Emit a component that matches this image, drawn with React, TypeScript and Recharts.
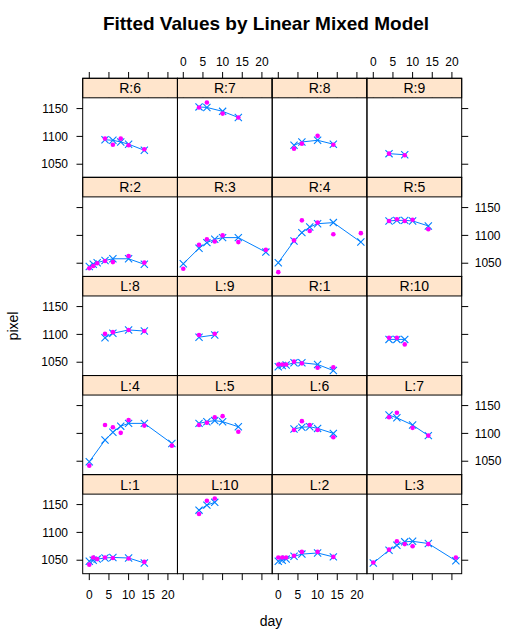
import React from 'react';
import { ComposedChart, Line, XAxis, YAxis } from 'recharts';

// ---------- data ----------
const panelLabels = [
  'R:6', 'R:7', 'R:8', 'R:9',
  'R:2', 'R:3', 'R:4', 'R:5',
  'L:8', 'L:9', 'R:1', 'R:10',
  'L:4', 'L:5', 'L:6', 'L:7',
  'L:1', 'L:10', 'L:2', 'L:3',
];

const panelDays = [
  [4, 6, 8, 10, 14], [4, 6, 10, 14], [4, 6, 10, 14], [4, 8],
  [0, 1, 2, 4, 6, 10, 14], [0, 4, 6, 8, 10, 14, 21], [0, 4, 6, 8, 10, 14, 21], [4, 6, 8, 10, 14],
  [4, 6, 10, 14], [4, 8], [0, 1, 2, 4, 6, 10, 14], [4, 6, 8],
  [0, 4, 6, 8, 10, 14, 21], [4, 6, 8, 10, 14], [4, 6, 8, 10, 14], [4, 6, 10, 14],
  [0, 1, 2, 4, 6, 10, 14], [4, 6, 8], [0, 1, 2, 4, 6, 10, 14], [0, 4, 6, 8, 10, 14, 21],
];

const observedPixel = [
  [1096, 1085, 1096, 1084, 1077], [1152, 1161, 1141, 1134], [1078, 1087, 1101, 1085], [1069, 1066],
  [1041, 1045, 1050, 1054, 1052, 1063, 1051], [1040, 1083, 1093, 1089, 1100, 1088, 1074],
  [1034, 1091, 1127, 1108, 1123, 1102, 1104], [1126, 1129, 1126, 1128, 1111],
  [1101, 1104, 1108, 1106], [1099, 1101], [1046, 1046, 1046, 1051, 1048, 1040, 1041], [1094, 1094, 1082],
  [1042, 1115, 1111, 1101, 1124, 1114, 1078], [1115, 1119, 1129, 1131, 1103],
  [1106, 1122, 1115, 1106, 1093], [1129, 1137, 1110, 1096],
  [1042, 1055, 1052, 1055, 1054, 1053, 1047], [1133, 1157, 1161],
  [1055, 1055, 1055, 1058, 1065, 1065, 1056], [1046, 1069, 1084, 1079, 1075, 1079, 1055],
];

const fittedPixel = [
  [1094, 1093, 1090, 1086, 1075], [1153, 1152, 1145, 1134], [1084, 1090, 1093, 1086], [1069, 1067],
  [1044, 1048, 1051, 1055, 1058, 1058, 1048], [1049, 1077, 1087, 1093, 1096, 1096, 1070],
  [1051, 1090, 1105, 1115, 1121, 1123, 1088], [1126, 1127, 1127, 1126, 1117],
  [1094, 1102, 1108, 1106], [1095, 1099], [1042, 1044, 1045, 1049, 1049, 1046, 1035], [1091, 1091, 1091],
  [1049, 1088, 1102, 1113, 1118, 1118, 1082], [1118, 1121, 1123, 1121, 1112],
  [1108, 1111, 1112, 1109, 1100], [1133, 1128, 1115, 1096],
  [1048, 1050, 1052, 1054, 1055, 1054, 1045], [1140, 1149, 1154],
  [1048, 1050, 1052, 1057, 1061, 1063, 1056], [1045, 1068, 1077, 1083, 1084, 1080, 1049],
];

const dayTicks = [0, 5, 10, 15, 20];
const pixelTicks = [1050, 1100, 1150];

// ---------- layout ----------
const FONT = '"Liberation Sans", Arial, Helvetica, sans-serif';
const NCOL = 4;
const NROW = 5;
const LEFT0 = 82.7;
const TOP0 = 78.3;
const CELL_W = 94.75;
const CELL_H = 99.08;
const STRIP_H = 19.5;
const PLOT_H = CELL_H - STRIP_H;
const PAD = 50;
const Y_AXIS_W = 45;
const X_TOP_H = 45;
const X_BOT_H = 30;
const X_DOMAIN: [number, number] = [-1.6, 22.5];
const Y_DOMAIN: [number, number] = [1026, 1169];

const FIT_COLOR = '#0080ff';
const OBS_COLOR = '#ff00ff';
const STRIP_COLOR = '#ffe5cc';

const tickStyle = { fontSize: 12, fill: '#000', fontFamily: FONT };
const blank = () => '';

const XMark = (props: any) => {
  const { cx, cy, index } = props;
  if (cx == null || cy == null) return <g key={`x${index}`} />;
  const s = 3.6;
  return (
    <path
      key={`x${index}`}
      d={`M${cx - s},${cy - s}L${cx + s},${cy + s}M${cx - s},${cy + s}L${cx + s},${cy - s}`}
      stroke={FIT_COLOR}
      strokeWidth={1.1}
      fill="none"
    />
  );
};

const ODot = (props: any) => {
  const { cx, cy, index } = props;
  if (cx == null || cy == null) return <g key={`o${index}`} />;
  return <circle key={`o${index}`} cx={cx} cy={cy} r={2.3} fill={OBS_COLOR} stroke="none" />;
};

function Panel({ idx }: { idx: number }) {
  const r = Math.floor(idx / NCOL);
  const c = idx % NCOL;
  const data = panelDays[idx].map((d, i) => ({
    day: d,
    obs: observedPixel[idx][i],
    fit: fittedPixel[idx][i],
  }));
  const showTop = r === 0;
  const showBottom = r === NROW - 1;
  const showLeft = c === 0;
  const showRight = c === NCOL - 1;
  const margin = {
    top: showTop ? PAD - X_TOP_H : PAD,
    bottom: showBottom ? PAD - X_BOT_H : PAD,
    left: showLeft ? PAD - Y_AXIS_W : PAD,
    right: showRight ? PAD - Y_AXIS_W : PAD,
  };
  const plotLeft = LEFT0 + c * CELL_W;
  const plotTop = TOP0 + r * CELL_H + STRIP_H;
  const xLabels = showTop ? c % 2 === 1 : c % 2 === 0;
  const yLabels = showLeft ? r % 2 === 0 : r % 2 === 1;
  return (
    <div style={{ position: 'absolute', left: plotLeft - PAD, top: plotTop - PAD }}>
      <ComposedChart
        width={CELL_W + 2 * PAD}
        height={PLOT_H + 2 * PAD}
        data={data}
        margin={margin}
      >
        <XAxis
          type="number"
          dataKey="day"
          domain={X_DOMAIN}
          allowDataOverflow
          ticks={dayTicks}
          interval={0}
          hide={!showTop && !showBottom}
          orientation={showTop ? 'top' : 'bottom'}
          height={showTop ? X_TOP_H : X_BOT_H}
          axisLine={false}
          tickLine={{ stroke: '#000', strokeWidth: 1 }}
          tickSize={showTop ? STRIP_H + 6.5 : 6.5}
          tickMargin={showTop ? 6 : 10}
          tick={tickStyle}
          tickFormatter={xLabels ? undefined : blank}
        />
        <YAxis
          type="number"
          domain={Y_DOMAIN}
          allowDataOverflow
          ticks={pixelTicks}
          interval={0}
          hide={!showLeft && !showRight}
          orientation={showLeft ? 'left' : 'right'}
          width={Y_AXIS_W}
          axisLine={false}
          tickLine={{ stroke: '#000', strokeWidth: 1 }}
          tickSize={6.5}
          tickMargin={showLeft ? 8.5 : 6.5}
          tick={tickStyle}
          tickFormatter={yLabels ? undefined : blank}
        />
        <Line
          dataKey="fit"
          stroke={FIT_COLOR}
          strokeWidth={1}
          dot={XMark}
          activeDot={false}
          isAnimationActive={false}
          type="linear"
        />
        <Line
          dataKey="obs"
          stroke="none"
          dot={ODot}
          activeDot={false}
          isAnimationActive={false}
          type="linear"
        />
      </ComposedChart>
    </div>
  );
}

export default function App() {
  const W = 507;
  const H = 633;
  return (
    <div style={{ position: 'absolute', left: 0, top: 0, width: W, height: H, background: '#fff', overflow: 'hidden' }}>
      <svg width={W} height={H} style={{ position: 'absolute', left: 0, top: 0 }}>
        <text x={266} y={30} textAnchor="middle" fontFamily={FONT} fontWeight="bold" fontSize={19} fill="#000">
          Fitted Values by Linear Mixed Model
        </text>
        <text x={271} y={626} textAnchor="middle" fontFamily={FONT} fontSize={14} fill="#000">
          day
        </text>
        <text
          x={0}
          y={0}
          transform={`translate(18, ${TOP0 + (NROW * CELL_H) / 2}) rotate(-90)`}
          textAnchor="middle"
          fontFamily={FONT}
          fontSize={14}
          fill="#000"
        >
          pixel
        </text>
      </svg>
      {panelLabels.map((_, i) => (
        <Panel key={i} idx={i} />
      ))}
      <svg width={W} height={H} style={{ position: 'absolute', left: 0, top: 0, pointerEvents: 'none' }}>
        {panelLabels.map((lab, i) => {
          const r = Math.floor(i / NCOL);
          const c = i % NCOL;
          const x = LEFT0 + c * CELL_W;
          const y = TOP0 + r * CELL_H;
          return (
            <g key={lab}>
              <rect x={x} y={y} width={CELL_W} height={STRIP_H} fill={STRIP_COLOR} stroke="#000" strokeWidth={1} />
              <text x={x + CELL_W / 2} y={y + 15} textAnchor="middle" fontFamily={FONT} fontSize={14} fill="#000">
                {lab}
              </text>
              <rect x={x} y={y} width={CELL_W} height={CELL_H} fill="none" stroke="#000" strokeWidth={1} />
            </g>
          );
        })}
      </svg>
    </div>
  );
}
